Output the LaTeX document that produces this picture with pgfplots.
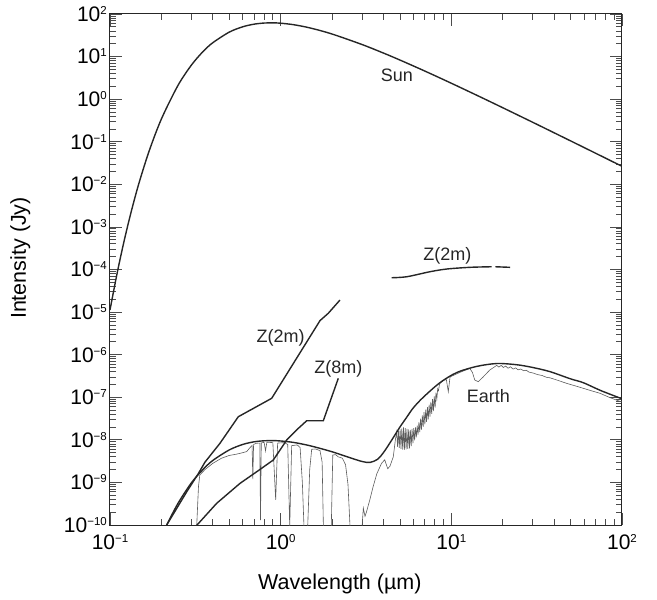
\documentclass[border=0pt]{standalone}
\usepackage{pgfplots}
\pgfplotsset{compat=1.18}
\usepackage{fontspec}
\setmainfont{Liberation Sans}
\usetikzlibrary{calc}
\newcommand{\sups}[1]{\raisebox{7bp}{\fontsize{11.5bp}{12bp}\selectfont #1}}
\definecolor{curve}{HTML}{262626}
\definecolor{earththin}{HTML}{5C5C5C}
\begin{document}
\begin{tikzpicture}
\begin{axis}[
  xmode=log, ymode=log,
  scale only axis, width=512bp, height=511bp,
  xmin=0.1, xmax=100, ymin=1e-10, ymax=100,
  xtick={0.1,1,10,100},
  xticklabels={10\sups{−1},10\sups{0},10\sups{1},10\sups{2}},
  minor xtick={0.2,0.3,0.4,0.5,0.6,0.7,0.8,0.9,2,3,4,5,6,7,8,9,20,30,40,50,60,70,80,90},
  ytick={1e-10,1e-9,1e-8,1e-7,1e-6,1e-5,1e-4,1e-3,1e-2,1e-1,1,10,100},
  yticklabels={10\sups{−10},10\sups{−9},10\sups{−8},10\sups{−7},10\sups{−6},10\sups{−5},10\sups{−4},10\sups{−3},10\sups{−2},10\sups{−1},10\sups{0},10\sups{1},10\sups{2}},
  minor ytick={2e-10,3e-10,4e-10,5e-10,6e-10,7e-10,8e-10,9e-10,
    2e-9,3e-9,4e-9,5e-9,6e-9,7e-9,8e-9,9e-9,
    2e-8,3e-8,4e-8,5e-8,6e-8,7e-8,8e-8,9e-8,
    2e-7,3e-7,4e-7,5e-7,6e-7,7e-7,8e-7,9e-7,
    2e-6,3e-6,4e-6,5e-6,6e-6,7e-6,8e-6,9e-6,
    2e-5,3e-5,4e-5,5e-5,6e-5,7e-5,8e-5,9e-5,
    2e-4,3e-4,4e-4,5e-4,6e-4,7e-4,8e-4,9e-4,
    2e-3,3e-3,4e-3,5e-3,6e-3,7e-3,8e-3,9e-3,
    2e-2,3e-2,4e-2,5e-2,6e-2,7e-2,8e-2,9e-2,
    0.2,0.3,0.4,0.5,0.6,0.7,0.8,0.9,
    2,3,4,5,6,7,8,9,
    20,30,40,50,60,70,80,90},
  major tick length=12bp, minor tick length=6bp,
  tick style={black!70, line width=0.8bp},
  axis line style={black!85, line width=1bp},
  ticklabel style={font=\fontsize{21bp}{24bp}\selectfont, inner sep=0pt},
  xticklabel style={yshift=-9bp},
  yticklabel style={xshift=-3bp},
  xlabel={Wavelength (µm)}, ylabel={Intensity (Jy)},
  label style={font=\fontsize{21.5bp}{24bp}\selectfont},
  xlabel style={at={(axis description cs:0.449,-0.1155)}, anchor=center},
  ylabel style={at={(axis description cs:-0.175,0.5225)}, anchor=center},
]
% Sun
\addplot[curve, line width=1.4bp, smooth, tension=0.5] coordinates {
(0.1,1.122e-5)(0.11,8.036e-5)(0.12,4.052e-4)(0.13,1.564e-3)(0.14,4.895e-3)(0.15,1.2966e-2)
(0.17,0.06235)(0.2,0.3416)(0.25,2.090)(0.3,6.324)(0.35,12.98)(0.4,21.12)(0.5,37.57)
(0.6,50.16)(0.7,57.78)(0.8,61.30)(0.9,61.96)(1.0,60.81)(1.2,55.83)(1.5,46.68)(2,33.88)
(3,19.17)(4,12.11)(5,8.293)(7,4.565)(10,2.3656)(15,1.0971)(20,0.6303)(30,0.2861)
(50,0.10474)(70,0.05382)(100,0.02651)};
% Earth thin spectrum
\addplot[color=earththin, line width=0.6bp] coordinates {
(0.322,9e-11)(0.330,8e-10)(0.336,1.5e-9)(0.36,2.0e-9)(0.40,2.8e-9)(0.45,3.7e-9)(0.50,4.3e-9)
(0.55,4.6e-9)(0.60,5.0e-9)(0.632,5.3e-9)(0.66,6.5e-9)(0.68,7.4e-9)(0.687,1.2e-9)(0.694,7.8e-9)
(0.72,8.3e-9)(0.755,8.4e-9)(0.762,1.3e-10)(0.77,8.5e-9)(0.80,8.7e-9)(0.815,5.5e-9)(0.83,8.8e-9)
(0.90,8.6e-9)(0.935,3.9e-10)(0.96,8.4e-9)(1.05,8.6e-9)(1.10,7.8e-9)(1.13,9e-11)(1.16,7.3e-9)
(1.25,7.6e-9)(1.30,6.6e-9)(1.34,1.0e-9)(1.37,9e-11)(1.44,9e-11)(1.48,2e-9)(1.52,6.0e-9)
(1.60,6.1e-9)(1.70,5.6e-9)(1.75,3e-9)(1.78,9e-11)(1.98,9e-11)(2.02,4.4e-9)(2.1,4.5e-9)
(2.17,4.0e-9)(2.3,3.7e-9)(2.4,2.6e-9)(2.48,9e-10)(2.55,9e-11)(3.0,9e-11)(3.05,2.5e-10)
(3.12,1.6e-10)(3.18,2.0e-10)(3.33,3.9e-10)(3.48,7.9e-10)(3.66,1.6e-9)(3.9,2.8e-9)(4.07,3.4e-9)
(4.24,2.1e-9)(4.37,2.4e-9)(4.57,4.0e-9)(4.70,1.0e-8)
(4.786,1.535e-8)(4.842,6.84e-9)(4.898,1.64e-8)(4.955,6.50e-9)(5.012,1.75e-8)(5.070,6.18e-9)
(5.129,1.86e-8)(5.188,5.87e-9)(5.248,1.96e-8)(5.309,5.85e-9)(5.370,1.88e-8)(5.433,5.98e-9)
(5.495,1.82e-8)(5.559,6.12e-9)(5.623,1.75e-8)(5.689,6.27e-9)(5.754,1.71e-8)(5.821,7.08e-9)
(5.888,1.80e-8)(5.957,8.32e-9)(6.026,1.88e-8)(6.095,9.75e-9)(6.166,1.97e-8)(6.237,1.15e-8)
(6.310,2.15e-8)(6.383,1.32e-8)(6.457,2.59e-8)(6.531,1.52e-8)(6.607,3.13e-8)(6.683,1.75e-8)
(6.761,3.77e-8)(6.839,2.01e-8)(6.918,4.45e-8)(6.998,2.31e-8)(7.079,5.11e-8)(7.161,2.65e-8)
(7.244,5.85e-8)(7.328,3.04e-8)(7.413,6.71e-8)(7.499,3.49e-8)(7.586,7.76e-8)(7.674,4.07e-8)
(7.762,9.06e-8)(7.852,4.76e-8)(7.943,1.05e-7)(8.035,5.68e-8)(8.128,1.28e-7)(8.222,9.0e-8)
(8.318,1.58e-7)(8.414,1.43e-7)(8.511,1.95e-7)
(8.58,2.1e-7)(8.97,2.5e-7)(9.35,2.6e-7)(9.6,1.35e-7)(9.83,3.0e-7)(10.5,3.4e-7)(11.5,4.0e-7)
(12.85,4.75e-7)(13.3,3.8e-7)(13.72,2.54e-7)(14.4,2.32e-7)(15.4,3.03e-7)(16.8,4.36e-7)
(18.45,5.6e-7)(19.0,5.1e-7)(19.6,5.6e-7)(20.2,5.0e-7)(20.8,5.4e-7)(21.5,4.8e-7)(22.2,5.2e-7)
(23,4.6e-7)(23.8,4.9e-7)(24.6,4.4e-7)(25.5,4.6e-7)(26.5,4.2e-7)(27.5,4.3e-7)(28.5,3.9e-7)
(30.2,3.7e-7)(32,3.4e-7)(34,3.25e-7)(36,2.95e-7)(38,2.85e-7)(42,2.5e-7)(47.4,2.12e-7)
(55,1.78e-7)(65,1.45e-7)(74.3,1.24e-7)(85,9.8e-8)(100,7.7e-8)};
% Earth envelope
\addplot[curve, line width=1.4bp, smooth, tension=0.5] coordinates {
(0.2149,1.0e-10)(0.25,3.2e-10)(0.3,9.8e-10)(0.35,2.0e-9)(0.4,3.27e-9)(0.5,5.8e-9)(0.6,7.8e-9)
(0.7,9.0e-9)(0.8,9.5e-9)(0.9,9.6e-9)(1.0,9.4e-9)(1.2,8.65e-9)(1.5,7.2e-9)(2.0,5.25e-9)
(2.5,3.9e-9)(3.0,3.1e-9)(3.34,2.95e-9)(3.7,3.5e-9)(4.0,5.0e-9)(4.37,8.5e-9)(5.0,2.0e-8)
(5.48,3.4e-8)(6.0,5.7e-8)(6.85,1.0e-7)(8.58,2.2e-7)(10.75,3.8e-7)(14.08,5.3e-7)(18.5,6.2e-7)
(24.2,5.8e-7)(30,5.0e-7)(37.8,4.0e-7)(50,2.7e-7)(59.3,2.2e-7)(75,1.44e-7)(100,9.2e-8)};
% Z(2m) lower
\addplot[curve, line width=1.4bp] coordinates {
(0.2149,1.0e-10)(0.2814,6.0e-10)(0.329,1.6e-9)(0.3603,3.0e-9)(0.441,8.3e-9)(0.5646,3.49e-8)
(0.886,9.44e-8)(1.70,6.3e-6)(1.90,9.35e-6)(2.226,1.92e-5)};
% Z(8m)
\addplot[curve, line width=1.4bp] coordinates {
(0.316,9e-11)(0.4217,3.23e-10)(0.5778,9.5e-10)(0.7237,1.78e-9)(0.9055,3.36e-9)(1.085,9.9e-9)
(1.269,1.86e-8)(1.421,2.81e-8)(1.778,2.81e-8)(2.176,2.78e-7)};
% Z(2m) upper
\addplot[curve, line width=1.4bp, smooth] coordinates {
(4.47,6.41e-5)(5.48,6.76e-5)(7.50,8.87e-5)(9.39,1.026e-4)(12.85,1.125e-4)(17.2,1.16e-4)};
\addplot[curve, line width=1.4bp] coordinates {(18.1,1.16e-4)(22.1,1.125e-4)};
% labels
\begin{scope}[every node/.style={font=\fontsize{18bp}{20bp}\selectfont, text=curve}]
\node at (axis cs:4.80,3.69) {Sun};
\node at (axis cs:9.49,2.13e-4) {Z(2m)};
\node at (axis cs:1.0,2.53e-6) {Z(2m)};
\node at (axis cs:2.176,4.55e-7) {Z(8m)};
\node at (axis cs:16.47,1.08e-7) {Earth};
\end{scope}
\end{axis}
\pgfresetboundingbox
\path[use as bounding box] ($(current axis.south west)+(-110bp,-75bp)$) rectangle ($(current axis.north east)+(35bp,14bp)$);
\end{tikzpicture}
\end{document}
